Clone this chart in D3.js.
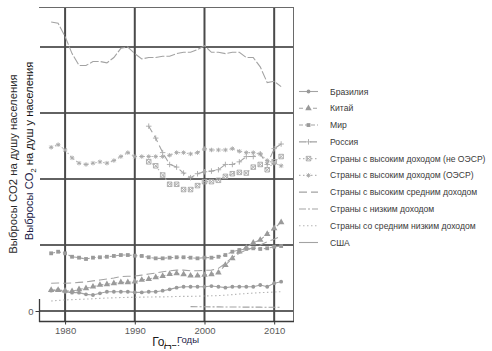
<!DOCTYPE html>
<html><head><meta charset="utf-8">
<script src="https://cdn.jsdelivr.net/npm/d3@7"></script>
<style>html,body{margin:0;padding:0;background:#fff}svg{display:block;font-family:"Liberation Sans",Arial,sans-serif}</style>
</head><body><svg id="c" width="492" height="351"></svg>
<script>
const years = d3.range(1978, 2012);
const years92 = d3.range(1992, 2012);
const years98 = d3.range(1998, 2012);
const seriesNames = ["Бразилия","Китай","Мир","Россия","Страны с высоким доходом (не ОЭСР)","Страны с высоким доходом (ОЭСР)","Страны с высоким средним доходом","Страны с низким доходом","Страны со средним низким доходом","США"];
const brazil = [1.54,1.59,1.46,1.39,1.39,1.26,1.21,1.34,1.46,1.46,1.46,1.46,1.41,1.41,1.46,1.46,1.54,1.64,1.77,1.84,1.84,1.84,1.84,1.89,1.84,1.77,1.84,1.84,1.84,1.84,1.97,1.84,2.1,2.22];
const china = [1.59,1.59,1.54,1.5,1.64,1.72,1.84,1.97,2.02,2.1,2.17,2.17,2.22,2.35,2.42,2.55,2.65,2.8,2.85,2.78,2.68,2.68,2.73,2.78,2.9,3.48,3.99,4.49,4.8,5.17,5.38,5.83,6.26,6.72];
const world = [4.37,4.49,4.37,4.11,4.04,3.94,4.04,4.07,4.11,4.17,4.24,4.24,4.19,4.17,4.07,3.99,3.99,4.04,4.07,4.07,4.04,3.99,4.04,4.04,4.11,4.24,4.49,4.62,4.70,4.75,4.70,4.75,4.87,4.92];
const russia = [14.0,13.1,12.0,11.1,10.9,10.45,10.1,10.4,10.55,10.6,10.7,11.1,11.1,11.3,11.7,11.7,11.9,11.1,12.3,12.65];
const highNonOECD = [11.3,11.0,10.3,9.6,9.6,9.2,9.2,9.5,9.8,9.8,9.9,10.2,10.4,10.5,10.45,10.9,11.1,10.7,11.3,11.7];
const highOECD = [12.4,12.6,12.2,11.6,11.2,11.1,11.2,11.3,11.2,11.4,11.7,12.0,11.7,11.7,11.7,11.7,11.7,11.8,12.0,12.0,11.9,12.0,12.3,12.2,12.2,12.2,12.3,12.1,12.0,12.0,11.9,11.4,11.2,11.0];
const upperMiddle = [2.1,2.12,2.1,2.12,2.17,2.2,2.28,2.35,2.42,2.5,2.6,2.63,2.65,2.72,2.8,2.88,2.97,3.05,3.1,3.1,3.05,3.05,3.08,3.1,3.23,3.61,4.07,4.37,4.62,4.8,5.0,5.25,5.43,5.68];
const lowIncome = [0.33,0.32,0.32,0.31,0.31,0.3,0.3,0.3,0.29,0.29,0.29,0.28,0.28,0.28];
const lowerMiddle = [0.76,0.8,0.84,0.86,0.88,0.9,0.93,0.96,0.98,1.0,1.02,1.03,1.04,1.05,1.06,1.07,1.07,1.08,1.1,1.11,1.11,1.12,1.14,1.15,1.17,1.2,1.24,1.29,1.32,1.36,1.39,1.41,1.44,1.46];
const usa = [21.9,21.8,20.8,19.5,18.6,18.6,18.9,18.9,18.8,19.2,19.9,20.0,19.5,19.1,19.2,19.2,19.3,19.3,19.5,19.6,19.6,19.8,20.1,19.6,19.6,19.5,19.6,19.6,19.2,19.2,18.5,17.3,17.4,17.0];
const xTicks = [1980,1990,2000,2010];
const yGrid = [0,5,10,15,20];
const yTickLabels = [0];

const seriesYears = [years,years,years,years92,years92,years,years,years98,years,years];
const seriesValues = [brazil,china,world,russia,highNonOECD,highOECD,upperMiddle,lowIncome,lowerMiddle,usa];
const dashes = [null,"4,3","4,2","7,4","1.5,2.5","1.5,2.5","8,4","7,2,2,2","1.5,2.5","9,2"];
const markers = ["circle","triangle","square","plus","sqx","asterisk",null,null,null,null];

const svg = d3.select("#c");
const L=40,R=293,T=7,B=321;
const x = d3.scaleLinear().domain([1976.4,2012.7]).range([L,R]);
const y = d3.scaleLinear().domain([0,20]).range([311,47]);

const g = svg.append("g");
g.selectAll(".hg").data(yGrid).join("line").attr("x1",L).attr("x2",R).attr("y1",d=>y(d)).attr("y2",d=>y(d)).attr("stroke","#2e2e2e").attr("stroke-width",1.4);
g.selectAll(".vg").data(xTicks).join("line").attr("y1",T).attr("y2",B).attr("x1",d=>x(d)).attr("x2",d=>x(d)).attr("stroke","#4a4a4a").attr("stroke-width",2);
svg.append("line").attr("x1",L-1).attr("x2",R).attr("y1",T+0.5).attr("y2",T+0.5).attr("stroke","#6a6a6a").attr("stroke-width",1);
svg.append("line").attr("x1",R+0.5).attr("x2",R+0.5).attr("y1",T).attr("y2",B).attr("stroke","#6a6a6a").attr("stroke-width",1);
svg.append("line").attr("x1",L-1).attr("x2",R+1).attr("y1",B+0.5).attr("y2",B+0.5).attr("stroke","#3a3a3a").attr("stroke-width",1.3);
svg.append("line").attr("x1",L-0.5).attr("x2",L-0.5).attr("y1",299).attr("y2",B+1).attr("stroke","#3a3a3a").attr("stroke-width",1.3);

const xa = svg.append("g").attr("transform",`translate(0,${B+0.5})`).call(d3.axisBottom(x).tickValues(xTicks).tickFormat(d3.format("d")).tickSize(3).tickPadding(3));
xa.select(".domain").remove();
xa.selectAll("line").attr("stroke","#3a3a3a");
xa.selectAll("text").attr("fill","#5a5a5a").attr("font-size","9.5px").attr("font-family","Liberation Sans, Arial, sans-serif");
const ya = svg.append("g").attr("transform",`translate(${L-0.5},0)`).call(d3.axisLeft(y).tickValues(yTickLabels).tickSize(4).tickPadding(2));
ya.select(".domain").remove();
ya.selectAll("line").attr("stroke","#3a3a3a");
ya.selectAll("text").attr("fill","#5a5a5a").attr("font-size","9.5px").attr("font-family","Liberation Sans, Arial, sans-serif");

function markerPath(type,s){
  const h=s/2;
  switch(type){
    case "circle": return d3.symbol(d3.symbolCircle, s*s*0.8)();
    case "triangle": return d3.symbol(d3.symbolTriangle, s*s*0.9)();
    case "square": return `M${-h},${-h}h${s}v${s}h${-s}Z`;
    case "plus": return `M${-h-0.5},0h${s+1}M0,${-h-0.5}v${s+1}`;
    case "sqx": return `M${-h},${-h}h${s}v${s}h${-s}ZM${-h},${-h}L${h},${h}M${h},${-h}L${-h},${h}`;
    case "asterisk": return `M${-h},0h${s}M0,${-h}v${s}M${-h*0.75},${-h*0.75}L${h*0.75},${h*0.75}M${h*0.75},${-h*0.75}L${-h*0.75},${h*0.75}`;
  }
}
const strokeOnly = {plus:true,sqx:true,asterisk:true};
const lineCol = "#a3a3a3", markCol="#9a9a9a";
svg.append("clipPath").attr("id","pc").append("rect").attr("x",L).attr("y",T).attr("width",R-L).attr("height",B-T);
const plot = svg.append("g").attr("clip-path","url(#pc)");
const line = d3.line().x(d=>x(d[0])).y(d=>y(d[1]));
seriesNames.forEach((n,i)=>{
  const pts = seriesYears[i].map((yr,j)=>[yr,seriesValues[i][j]]);
  const col = (i===4||i===5||i===8) ? "#b5b5b5" : lineCol;
  plot.append("path").datum(pts).attr("d",line).attr("fill","none").attr("stroke",col).attr("stroke-width",1.1).attr("stroke-dasharray",dashes[i]);
  if(markers[i]){
    const m = markers[i];
    plot.selectAll(null).data(pts).join("path").attr("transform",d=>`translate(${x(d[0])},${y(d[1])})`)
      .attr("d",markerPath(m, m==="triangle"?4.5:(strokeOnly[m]?4.5:3.8)))
      .attr("fill",strokeOnly[m]?"none":markCol).attr("stroke",strokeOnly[m]?"#a8a8a8":"none").attr("stroke-width",0.9);
  }
});

const lg = svg.append("g");
const ly = d3.scaleLinear().domain([0,9]).range([91.5,242.5]);
seriesNames.forEach((n,i)=>{
  const yy = ly(i);
  const col = (i===4||i===5||i===8) ? "#b5b5b5" : lineCol;
  lg.append("line").attr("x1",299).attr("x2",318).attr("y1",yy).attr("y2",yy).attr("stroke",col).attr("stroke-width",1.1).attr("stroke-dasharray",i===9?null:dashes[i]);
  if(markers[i]){
    const m=markers[i];
    lg.append("path").attr("transform",`translate(308.5,${yy})`).attr("d",markerPath(m, m==="triangle"?4.5:(strokeOnly[m]?4.5:3.8)))
      .attr("fill",strokeOnly[m]?"none":markCol).attr("stroke",strokeOnly[m]?"#a8a8a8":"none").attr("stroke-width",0.9);
  }
  lg.append("text").attr("x",330).attr("y",yy+3).attr("font-size","8.6px").attr("fill","#3a3a3a").text(n);
});

svg.append("text").attr("transform","translate(17,164) rotate(-90)").attr("text-anchor","middle").attr("font-size","11.3px").attr("fill","#2a2a2a").text("Выбросы CO2 на душу населения");
const t2 = svg.append("text").attr("transform","translate(33,151) rotate(-90)").attr("text-anchor","middle").attr("font-size","11.2px").attr("fill","#111");
t2.append("tspan").attr("fill","#1c1c48").text("Выбросы CO");
t2.append("tspan").attr("font-size","7.5px").attr("dy",3).text("2");
t2.append("tspan").attr("dy",-3).text(" на душ у населения");

svg.append("text").attr("x",166).attr("y",346).attr("text-anchor","middle").attr("font-size","12px").attr("fill","#1a1a1a").text("Годы");
svg.append("rect").attr("x",166).attr("y",334).attr("width",34).attr("height",11).attr("fill","#fff");
svg.append("text").attr("x",177).attr("y",343).attr("font-size","9.5px").attr("fill","#1c1c48").text("Годы");
</script></body></html>
